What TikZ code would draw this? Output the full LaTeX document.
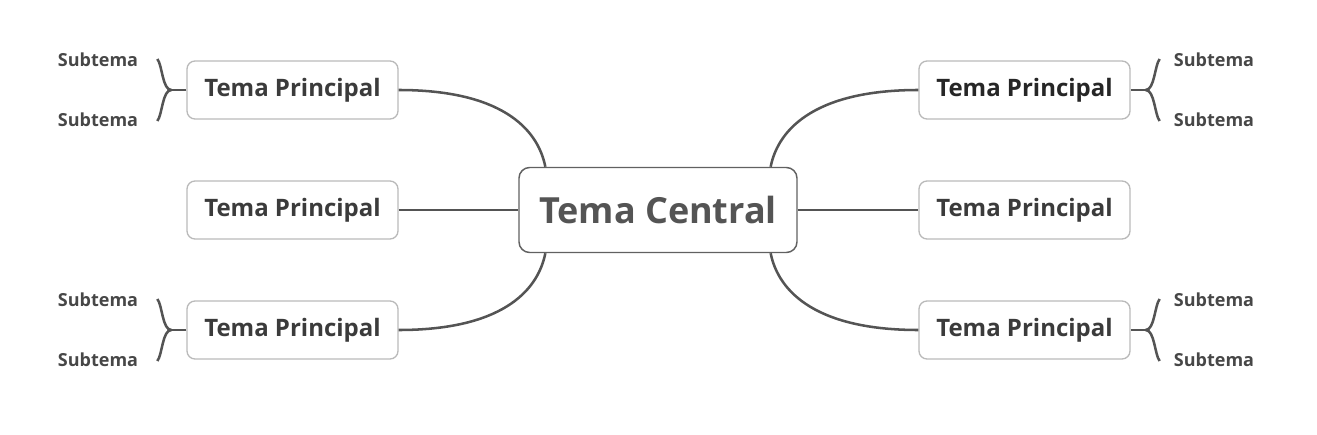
\documentclass[tikz,border=0pt]{standalone}
\usepackage{fontspec}
\setmainfont{Open Sans}
\begin{document}
\begin{tikzpicture}[x=0.75pt, y=-0.75pt, font=\bfseries,
    central/.style={draw=black!62, line width=1.1pt, rounded corners=8pt, fill=white, minimum width=208.5pt, minimum height=63.75pt, text=black!67, font=\fontsize{27}{30}\selectfont\bfseries},
    tema/.style={draw=black!27, line width=1pt, rounded corners=6pt, fill=white, minimum width=158.25pt, minimum height=43.5pt, text=black!77, font=\fontsize{18}{21}\selectfont\bfseries},
    subtema/.style={inner sep=0pt, text=black!72, font=\fontsize{13.5}{16}\selectfont\bfseries},
    link/.style={draw=black!67, line width=1.9pt}]
        \useasboundingbox (0,0) rectangle (1317,435);
        \node[central] (c) at (658,210) {Tema Central};
        \node[tema] (lt) at (292.5,90) {Tema Principal};
        \node[tema] (lm) at (292.5,210) {Tema Principal};
        \node[tema] (lb) at (292.5,330) {Tema Principal};
        \node[tema, text=black!85] (rt) at (1024.5,90) {Tema Principal};
        \node[tema] (rm) at (1024.5,210) {Tema Principal};
        \node[tema] (rb) at (1024.5,330) {Tema Principal};
        \foreach \n/\x/\y in {lt1/98/60, lt2/98/120, lb1/98/300, lb2/98/360, rt1/1214/60, rt2/1214/120, rb1/1214/300, rb2/1214/360}
            \node[subtema] (\n) at (\x,\y) {Subtema};
        \draw[link] (lt.east) .. controls +(100,0) and +(-8,-40) .. (c.159);
        \draw[link] (lb.east) .. controls +(100,0) and +(-8,40) .. (c.201);
        \draw[link] (rt.west) .. controls +(-100,0) and +(8,-40) .. (c.21);
        \draw[link] (rb.west) .. controls +(-100,0) and +(8,40) .. (c.339);
        \draw[link] (lm.east) -- (c.west);
        \draw[link] (c.east) -- (rm.west);
        \foreach \b in {lt,lb} {
            \draw[link] (\b.west) -- ++(-15,0) coordinate (\b j);
            \draw[link] (\b j) .. controls +(-9,0) and +(5,6) .. ++(-14,-31);
            \draw[link] (\b j) .. controls +(-9,0) and +(5,-6) .. ++(-14,31);
        }
        \foreach \b in {rt,rb} {
            \draw[link] (\b.east) -- ++(15,0) coordinate (\b j);
            \draw[link] (\b j) .. controls +(9,0) and +(-5,6) .. ++(14,-31);
            \draw[link] (\b j) .. controls +(9,0) and +(-5,-6) .. ++(14,31);
        }
\end{tikzpicture}
\end{document}
